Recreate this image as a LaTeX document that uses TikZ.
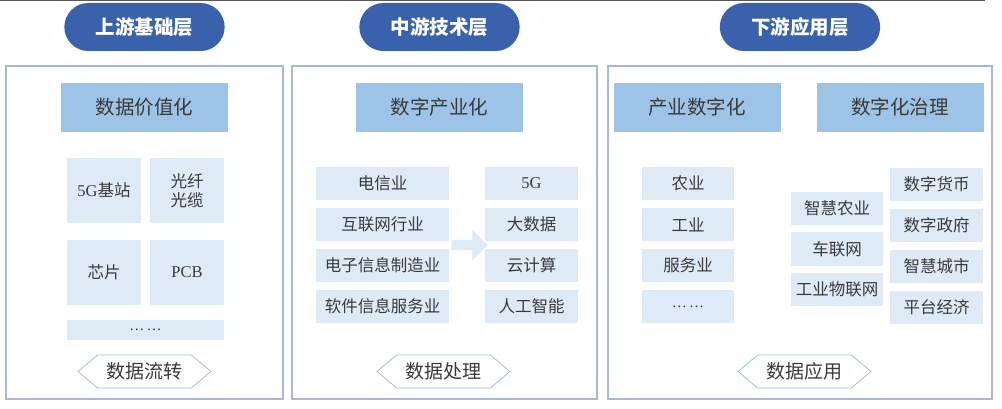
\documentclass[tikz,border=0pt]{standalone}
\usepackage{fontspec}
\setmainfont{Liberation Serif}
\newfontfamily\cjk{Noto Sans CJK SC}
\usetikzlibrary{positioning,calc,shapes.arrows,shapes.symbols,shapes.misc}
\definecolor{pillblue}{HTML}{3A62AC}
\definecolor{headblue}{HTML}{9DC3E6}
\definecolor{cellblue}{HTML}{DEEBF7}
\definecolor{framegray}{HTML}{A8B8D8}
\definecolor{flowblue}{HTML}{A3BDE6}
\definecolor{inkgray}{HTML}{3A3A3A}
\begin{document}
\begin{tikzpicture}[x=1pt, y=1pt, node distance=41pt,
    frame/.style={draw=framegray, line width=1.2pt, fill=white, inner sep=0pt},
    pill/.style={rounded rectangle, fill=pillblue, minimum width=167pt, minimum height=48pt, text=white, font=\cjk\bfseries\fontsize{19.5}{21}\selectfont},
    head/.style={fill=headblue, minimum width=167pt, minimum height=49pt, text=inkgray, font=\cjk\fontsize{19.5}{21}\selectfont},
    cell/.style={fill=cellblue, minimum height=33.5pt, inner sep=0pt, text=inkgray, font=\cjk\fontsize{16.5}{19}\selectfont},
    dots/.style={font=\rmfamily\fontsize{15}{18}\selectfont},
    flow/.style={signal, signal to=west and east, signal pointer angle=80, draw=flowblue, line width=0.8pt, fill=white, minimum width=133pt, minimum height=33pt, inner sep=0pt, text=inkgray, font=\cjk\fontsize{19}{21}\selectfont}]
    \useasboundingbox (0,0) rectangle (1002,-409);
    \draw [gray!70!black, line width=1.2pt] (0,-0.6) -- (985,-0.6);

    \node (f1) [frame, minimum width=277pt, minimum height=333pt] at (144.5,-232.5) {};
    \node (f2) [frame, minimum width=305pt, minimum height=333pt] at (444.5,-232.5) {};
    \node (f3) [frame, minimum width=384pt, minimum height=333pt] at (800,-232.5) {};

    \node (p1) [pill] at (144.5,-27) {上游基础层};
    \node (p2) [pill] at (439.5,-27) {中游技术层};
    \node (p3) [pill] at (800,-27) {下游应用层};

    \node (h1) [head] at (144.5,-107.5) {数据价值化};
    \node (h2) [head] at (439.5,-107.5) {数字产业化};
    \node (h3) [head] at (697,-107.5) {产业数字化};
    \node (h4) [head] at (900,-107.5) {数字化治理};

    \node (a1) [cell, minimum width=74pt, minimum height=65pt] at (104,-190.5) {{\rmfamily 5G}基站};
    \node (a2) [cell, minimum width=74pt, minimum height=65pt, align=center, right of=a1, node distance=83pt] {光纤\\光缆};
    \node (a3) [cell, minimum width=74pt, minimum height=65pt, below of=a1, node distance=81.5pt] {芯片};
    \node (a4) [cell, minimum width=74pt, minimum height=65pt, right of=a3, node distance=83pt] {\rmfamily PCB};
    \node (a5) [cell, dots, minimum width=157pt, minimum height=20pt] at (145.5,-330) {…\,…};

    \node (m1) [cell, minimum width=133pt] at (382.5,-183.5) {电信业};
    \node (m2) [cell, minimum width=133pt, below of=m1] {互联网行业};
    \node (m3) [cell, minimum width=133pt, below of=m2] {电子信息制造业};
    \node (m4) [cell, minimum width=133pt, below of=m3] {软件信息服务业};
    \node (n1) [cell, minimum width=93pt] at (531.5,-183.5) {\rmfamily 5G};
    \node (n2) [cell, minimum width=93pt, below of=n1] {大数据};
    \node (n3) [cell, minimum width=93pt, below of=n2] {云计算};
    \node (n4) [cell, minimum width=93pt, below of=n3] {人工智能};
    \node (arr) [single arrow, fill=cellblue, inner xsep=0pt, inner ysep=5pt, single arrow head extend=10pt, minimum height=36pt] at ($(m2.south east)!0.5!(n3.north west)$) {};

    \node (d1) [cell, minimum width=92pt] at (688,-183.5) {农业};
    \node (d2) [cell, minimum width=92pt, below of=d1] {工业};
    \node (d3) [cell, minimum width=92pt, below of=d2] {服务业};
    \node (d4) [cell, dots, minimum width=92pt, below of=d3] {…\,…};
    \node (e1) [cell, minimum width=92pt] at (837,-208.5) {智慧农业};
    \node (e2) [cell, minimum width=92pt, below of=e1, node distance=40.5pt] {车联网};
    \node (e3) [cell, minimum width=92pt, below of=e2, node distance=40.5pt] {工业物联网};
    \node (k1) [cell, minimum width=93pt] at (936.5,-184.5) {数字货币};
    \node (k2) [cell, minimum width=93pt, below of=k1] {数字政府};
    \node (k3) [cell, minimum width=93pt, below of=k2] {智慧城市};
    \node (k4) [cell, minimum width=93pt, below of=k3] {平台经济};

    \node (x1) [flow] at (144.5,-371.5) {数据流转};
    \node (x2) [flow] at (443.5,-371.5) {数据处理};
    \node (x3) [flow] at (804.5,-371.5) {数据应用};
\end{tikzpicture}
\end{document}
